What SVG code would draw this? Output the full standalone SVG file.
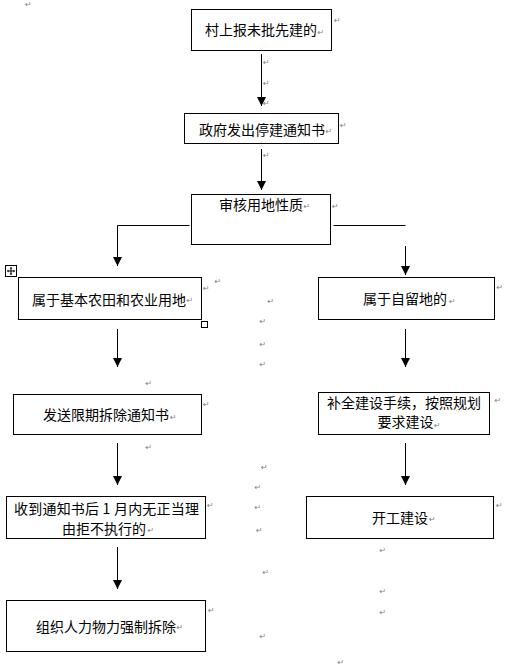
<svg xmlns="http://www.w3.org/2000/svg" width="509" height="667" viewBox="0 0 509 667">
<style>
.box{fill:#fff;stroke:#000;stroke-width:1}
.t{font-family:"Noto Sans CJK SC","Noto Sans CJK JP",sans-serif;font-size:14px;fill:#000}
.pm{font-family:"DejaVu Sans",sans-serif;font-size:8px;fill:#808080}
.ln{fill:none;stroke:#000;stroke-width:1}
.arr{fill:none;stroke:#000;stroke-width:1;marker-end:url(#ah)}
</style>
<defs>
<marker id="ah" markerUnits="userSpaceOnUse" markerWidth="9" markerHeight="9" refX="8" refY="4" orient="auto" viewBox="0 0 8 8">
<path d="M0,0 L8,4 L0,8 z" fill="#000"/>
</marker>
</defs>
<rect width="509" height="667" fill="#fff"/>

<g id="connectors">
<line class="arr" x1="261.5" y1="54" x2="261.5" y2="106"/>
<line class="arr" x1="261.5" y1="149" x2="261.5" y2="190"/>
<polyline class="arr" points="189.5,225.5 117.5,225.5 117.5,266"/>
<line class="ln" x1="333.5" y1="225.5" x2="405.5" y2="225.5"/>
<line class="arr" x1="405.5" y1="246" x2="405.5" y2="275"/>
<line class="arr" x1="117.5" y1="329" x2="117.5" y2="367"/>
<line class="arr" x1="405.5" y1="329" x2="405.5" y2="367"/>
<line class="arr" x1="117.5" y1="443" x2="117.5" y2="485"/>
<line class="arr" x1="405.5" y1="443" x2="405.5" y2="485"/>
<line class="arr" x1="117.5" y1="547" x2="117.5" y2="589"/>
</g>

<g id="n1">
<rect class="box" x="191.5" y="9.5" width="140" height="41"/>
<text class="t" x="205" y="35">村上报未批先建的</text>
</g>
<g id="n2">
<rect class="box" x="184.5" y="113.5" width="154" height="30"/>
<text class="t" x="199" y="134.5">政府发出停建通知书</text>
</g>
<g id="n3">
<rect class="box" x="191.5" y="194.5" width="139" height="50"/>
<text class="t" x="219" y="210">审核用地性质</text>
</g>
<g id="n4">
<rect class="box" x="18.5" y="277.5" width="183" height="42"/>
<text class="t" x="32" y="304.5">属于基本农田和农业用地</text>
</g>
<g id="n5">
<rect class="box" x="318.5" y="277.5" width="176" height="42"/>
<text class="t" x="363" y="304">属于自留地的</text>
</g>
<g id="n6">
<rect class="box" x="13.5" y="394.5" width="188" height="40"/>
<text class="t" x="43" y="420">发送限期拆除通知书</text>
</g>
<g id="n7">
<rect class="box" x="318.5" y="392.5" width="171" height="42"/>
<text class="t" x="327" y="408">补全建设手续，按照规划</text>
<text class="t" x="377.5" y="427">要求建设</text>
</g>
<g id="n8">
<rect class="box" x="6.5" y="496.5" width="199" height="42"/>
<text class="t" x="14" y="514" textLength="185" lengthAdjust="spacing" xml:space="preserve">收到通知书后 1 月内无正当理</text>
<text class="t" x="62" y="534">由拒不执行的</text>
</g>
<g id="n9">
<rect class="box" x="306.5" y="496.5" width="187" height="42"/>
<text class="t" x="372" y="522.5">开工建设</text>
</g>
<g id="n10">
<rect class="box" x="6.5" y="600.5" width="199" height="51"/>
<text class="t" x="36" y="632">组织人力物力强制拆除</text>
</g>

<g id="table-handles">
<rect x="5.5" y="265.5" width="11" height="11" fill="#fff" stroke="#000" stroke-width="1"/>
<path d="M11,267.5 V274.5 M7.5,271 H14.5" stroke="#000" stroke-width="1" fill="none"/>
<path d="M11,267 l-1.5,1.5 h3 z M11,275 l-1.5,-1.5 h3 z M7,271 l1.5,-1.5 v3 z M15,271 l-1.5,-1.5 v3 z" fill="#000"/>
<rect x="201.5" y="321.5" width="6" height="6" fill="#fff" stroke="#000" stroke-width="1"/>
</g>

<g id="paragraph-marks">
<text class="pm" x="25" y="7">↵</text>
<text class="pm" x="317.5" y="34.5">↵</text>
<text class="pm" x="334" y="23">↵</text>
<text class="pm" x="263" y="64.5">↵</text>
<text class="pm" x="263" y="86">↵</text>
<text class="pm" x="263" y="106">↵</text>
<text class="pm" x="325.5" y="133.5">↵</text>
<text class="pm" x="340" y="128">↵</text>
<text class="pm" x="263" y="158">↵</text>
<text class="pm" x="303.5" y="208.5">↵</text>
<text class="pm" x="332" y="208.5">↵</text>
<text class="pm" x="186.5" y="303">↵</text>
<text class="pm" x="203" y="291">↵</text>
<text class="pm" x="214.5" y="284">↵</text>
<text class="pm" x="267.5" y="303.5">↵</text>
<text class="pm" x="259.5" y="324">↵</text>
<text class="pm" x="259.5" y="347">↵</text>
<text class="pm" x="259.5" y="367">↵</text>
<text class="pm" x="449" y="303.5">↵</text>
<text class="pm" x="496.5" y="290">↵</text>
<text class="pm" x="145.5" y="386">↵</text>
<text class="pm" x="170" y="419.5">↵</text>
<text class="pm" x="203" y="407">↵</text>
<text class="pm" x="434" y="428">↵</text>
<text class="pm" x="494.5" y="403">↵</text>
<text class="pm" x="145.5" y="450">↵</text>
<text class="pm" x="261" y="470">↵</text>
<text class="pm" x="254.5" y="490">↵</text>
<text class="pm" x="254.5" y="509.5">↵</text>
<text class="pm" x="207" y="508">↵</text>
<text class="pm" x="147.5" y="533">↵</text>
<text class="pm" x="256" y="533">↵</text>
<text class="pm" x="429" y="522">↵</text>
<text class="pm" x="496" y="508">↵</text>
<text class="pm" x="379.5" y="553">↵</text>
<text class="pm" x="262.5" y="574.5">↵</text>
<text class="pm" x="379.5" y="594">↵</text>
<text class="pm" x="379.5" y="614.5">↵</text>
<text class="pm" x="176.5" y="630">↵</text>
<text class="pm" x="208" y="613">↵</text>
<text class="pm" x="259.5" y="639">↵</text>
<text class="pm" x="337.5" y="664.5">↵</text>
</g>
</svg>
